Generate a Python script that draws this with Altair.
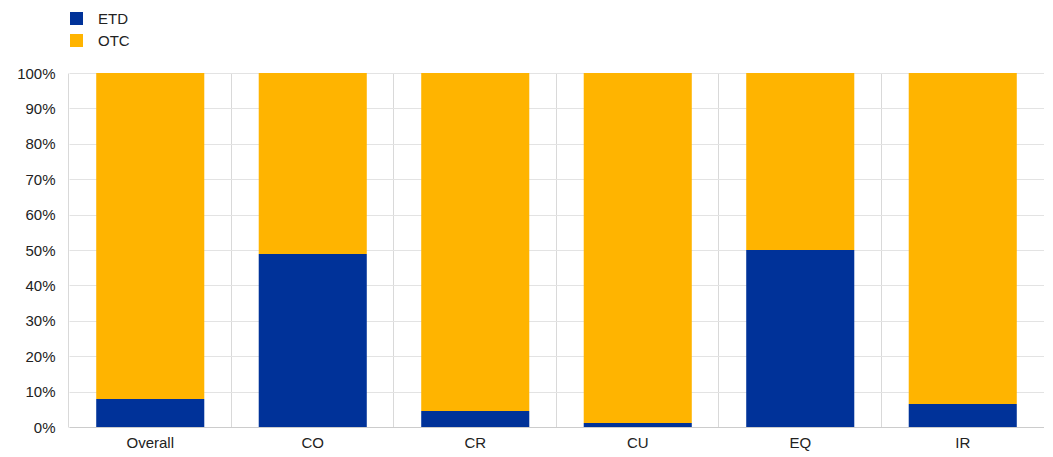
import altair as alt
import pandas as pd

categories = ["Overall", "CO", "CR", "CU", "EQ", "IR"]
etd = [7.9, 48.9, 4.5, 1.1, 50.0, 6.5]
otc = [100 - v for v in etd]
series = ["ETD", "OTC"]
colors = ["#003299", "#FFB400"]

rows = []
for c, e, o in zip(categories, etd, otc):
    rows.append({"category": c, "type": "ETD", "value": e / 100, "ord": 0})
    rows.append({"category": c, "type": "OTC", "value": o / 100, "ord": 1})
df = pd.DataFrame(rows)

chart = alt.Chart(df).mark_bar().encode(
    x=alt.X("category:N", sort=categories, title=None,
            scale=alt.Scale(paddingInner=0.335, paddingOuter=0.1675),
            axis=alt.Axis(labelAngle=0, bandPosition=-0.2519, grid=True, ticks=False,
                          labelFontSize=15, labelColor="#222", labelPadding=8,
                          domainColor="#cccccc", gridColor="#d9d9d9", labelFont="Liberation Sans")),
    y=alt.Y("value:Q", stack="zero", title=None,
            scale=alt.Scale(domain=[0, 1]),
            axis=alt.Axis(format=".0%", values=[i / 10 for i in range(11)], ticks=False,
                          domain=False, labelFontSize=15, labelColor="#222", labelPadding=14,
                          gridColor="#e3e3e3", labelFont="Liberation Sans")),
    color=alt.Color("type:N", scale=alt.Scale(domain=series, range=colors), title=None,
                    legend=alt.Legend(orient="none", legendX=0, legendY=-62,
                                      symbolType="square", symbolSize=169, symbolStrokeWidth=0,
                                      labelFontSize=15, labelColor="#222", rowPadding=6,
                                      labelOffset=14,
                                      labelFont="Liberation Sans", symbolOpacity=1)),
    order=alt.Order("ord:Q"),
).properties(width=975, height=354, padding={"left": 8, "top": 3, "right": 0, "bottom": 5}).configure_view(stroke=None)

chart.save("out.html", embed_options={"renderer": "svg", "actions": False})
